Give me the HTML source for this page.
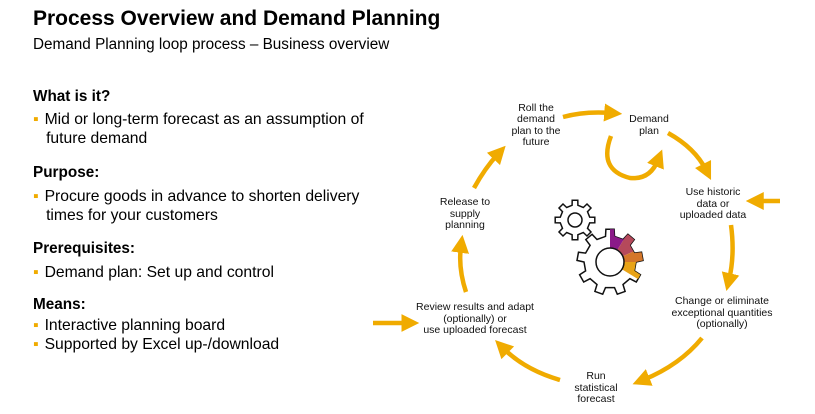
<!DOCTYPE html>
<html><head><meta charset="utf-8"><style>
body{margin:0;width:815px;height:414px;background:#fff;font-family:"Liberation Sans",Arial,sans-serif;color:#000;position:relative;overflow:hidden}
.t{position:absolute;white-space:nowrap}
h1{position:absolute;left:33px;top:7px;margin:0;font-size:21px;font-weight:bold}
.sub{left:33px;top:36px;font-size:15.3px}
.h{font-size:15.3px;font-weight:bold;left:33px}
.b{font-size:15.7px;left:33px;line-height:19px}
.b span{color:#F0AB00;margin-right:6px}
</style></head><body>
<h1>Process Overview and Demand Planning</h1>
<div class="t sub">Demand Planning loop process – Business overview</div>
<div class="t h" style="top:88px">What is it?</div>
<div class="t b" style="top:110px"><span>▪</span>Mid or long-term forecast as an assumption of<br>&nbsp;&nbsp;&nbsp;future demand</div>
<div class="t h" style="top:164px">Purpose:</div>
<div class="t b" style="top:187px"><span>▪</span>Procure goods in advance to shorten delivery<br>&nbsp;&nbsp;&nbsp;times for your customers</div>
<div class="t h" style="top:240px">Prerequisites:</div>
<div class="t b" style="top:263px"><span>▪</span>Demand plan: Set up and control</div>
<div class="t h" style="top:296px">Means:</div>
<div class="t b" style="top:316px"><span>▪</span>Interactive planning board<br><span>▪</span>Supported by Excel up-/download</div>
<svg width="815" height="414" style="position:absolute;left:0;top:0" font-family="Liberation Sans,Arial,sans-serif" font-size="10.5" text-anchor="middle">
<defs><marker id="a" markerWidth="4" markerHeight="4" refX="1.5" refY="2" orient="auto" markerUnits="strokeWidth"><path d="M0,0 L4,2 L0,4 Z" fill="#F0AB00"/></marker>
<clipPath id="gc"><path id="gclip"/></clipPath></defs>
<g fill="none" stroke="#F0AB00" stroke-width="4.5" marker-end="url(#a)">
<path d="M563,117 Q585,111 611,113"/>
<path d="M668,133 Q695,148 706,170"/>
<path d="M611,136 Q598,170 630,178 Q650,180 658,160"/>
<path d="M731,225 Q735,255 729,280"/>
<path d="M780,201 L757,201"/>
<path d="M702,338 Q680,365 643,380"/>
<path d="M560,380 Q525,370 503,348"/>
<path d="M373,323 L408,323"/>
<path d="M466,292 Q458,268 461,246"/>
<path d="M474,188 Q485,168 498,154"/>
</g>
<g fill="#111">
<text x="536" y="111">Roll the</text><text x="536" y="122">demand</text><text x="536" y="134">plan to the</text><text x="536" y="145">future</text>
<text x="649" y="122">Demand</text><text x="649" y="134">plan</text>
<text x="713" y="195">Use historic</text><text x="713" y="207">data or</text><text x="713" y="218">uploaded data</text>
<text x="722" y="304">Change or eliminate</text><text x="722" y="316">exceptional quantities</text><text x="722" y="327">(optionally)</text>
<text x="596" y="379">Run</text><text x="596" y="391">statistical</text><text x="596" y="402">forecast</text>
<text x="475" y="310">Review results and adapt</text><text x="475" y="322">(optionally) or</text><text x="475" y="333">use uploaded forecast</text>
<text x="465" y="205">Release to</text><text x="465" y="217">supply</text><text x="465" y="228">planning</text>
</g>
<g stroke="#111" stroke-width="1.5" fill="#fff">
<path id="g1"/><circle cx="575" cy="220" r="7"/>
<path id="g2"/>
</g>
<g clip-path="url(#gc)">
<path d="M610,262 L610,220 L632,226 Z" fill="#8B1A89"/>
<path d="M610,262 L632,226 L650,244 Z" fill="#B5495B"/>
<path d="M610,262 L650,244 L652,262 Z" fill="#D4762A"/>
<path d="M610,262 L652,262 L646,284 Z" fill="#E8A317"/>
</g>
<circle cx="610" cy="262" r="14" fill="#fff" stroke="#111" stroke-width="1.5"/>
</svg>
<script>
function gear(cx,cy,ro,ri,n){var d="",s=2*Math.PI/n;for(var i=0;i<n;i++){var a=i*s-Math.PI/2;var pts=[[ri,a-s*0.25],[ro,a-s*0.18],[ro,a+s*0.18],[ri,a+s*0.25]];pts.forEach(function(p,j){d+=(i==0&&j==0?"M":"L")+(cx+p[0]*Math.cos(p[1])).toFixed(1)+","+(cy+p[0]*Math.sin(p[1])).toFixed(1)});}return d+"Z";}
document.getElementById("g1").setAttribute("d",gear(575,220,20,15,8));
var g=gear(610,262,33,26,9);
document.getElementById("g2").setAttribute("d",g);
document.getElementById("gclip").setAttribute("d",g);
</script>
</body></html>
